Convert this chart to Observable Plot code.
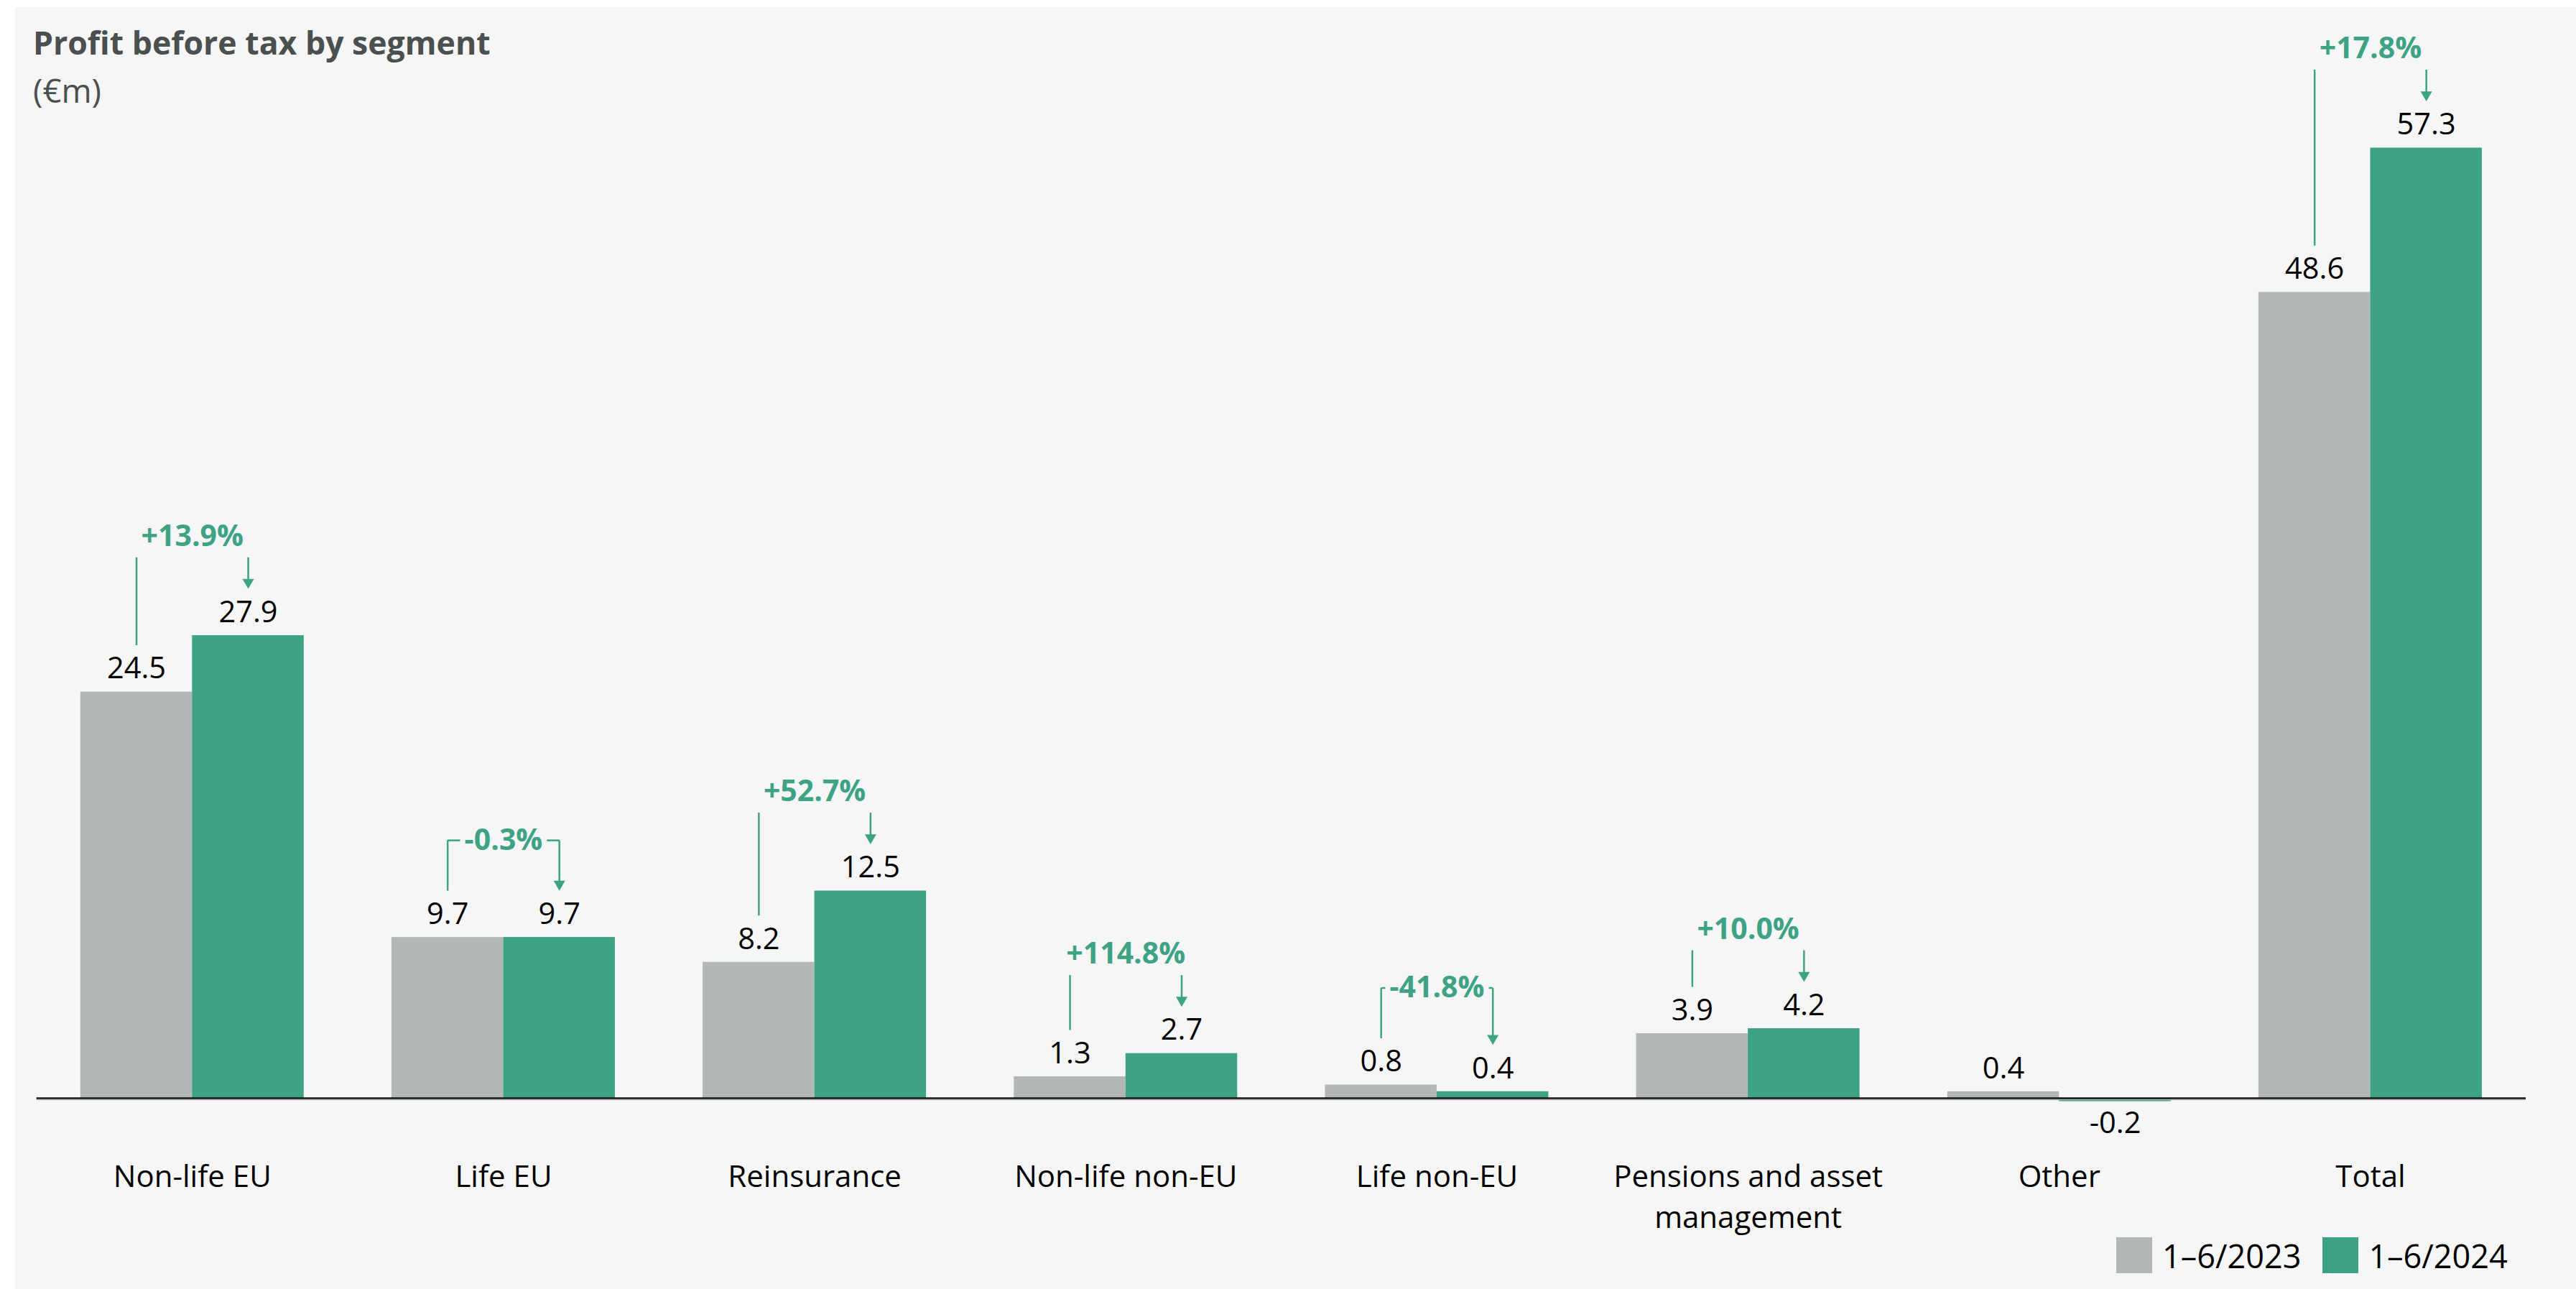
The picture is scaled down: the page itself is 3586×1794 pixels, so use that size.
<!DOCTYPE html>
<html>
<head>
<meta charset="utf-8">
<script src="https://cdn.jsdelivr.net/npm/d3@7"></script>
<script src="https://cdn.jsdelivr.net/npm/@observablehq/plot@0.6"></script>
<style>
  html, body { margin: 0; padding: 0; background: #ffffff; }
  #panel { position: absolute; left: 21px; top: 10px; width: 3565px; height: 1784px; background: #f6f6f6; font-family: "Open Sans", sans-serif; overflow: hidden; }
  #title { position: absolute; left: 25px; top: 27px; font-size: 44.6px; font-weight: 700; color: #4a4f50; line-height: 1; white-space: nowrap; }
  #subtitle { position: absolute; left: 25px; top: 93px; font-size: 45.5px; color: #4a4f50; line-height: 1; white-space: nowrap; }
  #chart { position: absolute; left: 0; top: 0; }
  #legend { position: absolute; left: 2925px; top: 1712px; display: flex; align-items: center; font-size: 45px; color: #000; line-height: 1; }
  #legend .item { display: flex; align-items: center; margin-right: 30px; }
  #legend .sw { width: 50px; height: 50px; margin-right: 14px; }
</style>
</head>
<body>
<div id="panel">
  <div id="chart"></div>
  <div id="title"></div>
  <div id="subtitle"></div>
  <div id="legend"></div>
</div>
<script>
// ---------- data ----------
const title = "Profit before tax by segment";
const subtitle = "(€m)";
const segments = ["Non-life EU", "Life EU", "Reinsurance", "Non-life non-EU", "Life non-EU", "Pensions and asset\nmanagement", "Other", "Total"];
const series = ["1–6/2023", "1–6/2024"];
const v2023 = [24.5, 9.7, 8.2, 1.3, 0.8, 3.9, 0.4, 48.6];
const v2024 = [27.9, 9.7, 12.5, 2.7, 0.4, 4.2, -0.2, 57.3];
const change = [13.9, -0.3, 52.7, 114.8, -41.8, 10.0, null, 17.8];
const colors = ["#b3b8b7", "#3da384"];

// ---------- layout ----------
const W = 3565, H = 1710;
const baselinePx = 1518;          // svg y of zero
const ky = 23.08;                 // px per €m
const yMin = -2, yMax = 62;
const marginTop = baselinePx - yMax * ky;
const marginBottom = H - (baselinePx - yMin * ky);
const marginLeft = 29.7, marginRight = 70;
const kx = (W - marginLeft - marginRight) / segments.length; // px per group
const half = 155.5 / kx;          // one bar width, in group units
const green = colors[1];
const labelSize = 41.5, pctSize = 41;

document.getElementById("title").textContent = title;
document.getElementById("subtitle").textContent = subtitle;

const bars = segments.flatMap((s, i) => [
  {i, s, series: series[0], x1: i - half, x2: i, v: v2023[i]},
  {i, s, series: series[1], x1: i, x2: i + half, v: v2024[i]}
]);

const fmtPct = c => (c > 0 ? "+" : "") + c.toFixed(1) + "%";
const ctx = document.createElement("canvas").getContext("2d");
ctx.font = `700 ${pctSize}px "Open Sans"`;

const ann = segments.map((s, i) => ({
  i, c: change[i], a: v2023[i], b: v2024[i],
  top: Math.max(v2023[i], v2024[i], 0)
})).filter(d => d.c != null);

const links = [];
const heads = [];
for (const d of ann) {
  const gx = d.i - half / 2, hx = d.i + half / 2;
  const bracket = d.c < 0;
  const level = d.top + (bracket ? 135 : 109) / ky;
  links.push({x1: gx, x2: gx, y1: d.a + 65 / ky, y2: level});
  links.push({x1: hx, x2: hx, y1: level, y2: d.b + 77 / ky});
  if (bracket) {
    const tw = ctx.measureText(fmtPct(d.c)).width;
    const stub = Math.max(3, ((hx - gx) * kx - tw) / 2 - 6) / kx;
    links.push({x1: gx, x2: gx + stub, y1: level, y2: level});
    links.push({x1: hx - stub, x2: hx, y1: level, y2: level});
  }
  heads.push({x: hx, y: d.b});
}

const chart = Plot.plot({
  width: W,
  height: H,
  marginTop, marginBottom, marginLeft, marginRight,
  style: {background: "transparent", fontFamily: "Open Sans", overflow: "visible"},
  x: {domain: [-0.5, segments.length - 0.5], axis: null},
  y: {domain: [yMin, yMax], axis: null},
  color: {domain: series, range: colors},
  marks: [
    Plot.rect(bars, {x1: "x1", x2: "x2", y1: 0, y2: "v", fill: "series"}),
    Plot.ruleY([0], {stroke: "#b8b8b8", strokeWidth: 1.5, dy: 2}),
    Plot.ruleY([0], {stroke: "#151515", strokeWidth: 2.5}),
    Plot.text(bars.filter(d => d.v >= 0), {x: d => (d.x1 + d.x2) / 2, y: "v", text: d => d.v.toFixed(1), dy: -32, lineAnchor: "middle", fontSize: labelSize, fill: "#000"}),
    Plot.text(bars.filter(d => d.v < 0), {x: d => (d.x1 + d.x2) / 2, y: "v", text: d => d.v.toFixed(1), dy: 31, lineAnchor: "middle", fontSize: labelSize, fill: "#000"}),
    Plot.link(links, {x1: "x1", x2: "x2", y1: "y1", y2: "y2", stroke: green, strokeWidth: 2.5}),
    Plot.dot(heads, {x: "x", y: "y", dy: -74.2, symbol: "triangle", rotate: 180, r: 5.95, fill: green, stroke: "none"}),
    Plot.text(ann.filter(d => d.c >= 0), {x: "i", y: "top", text: d => fmtPct(d.c), dy: -138, fill: green, fontWeight: 700, fontSize: pctSize, lineAnchor: "middle"}),
    Plot.text(ann.filter(d => d.c < 0), {x: "i", y: "top", text: d => fmtPct(d.c), dy: -135, fill: green, fontWeight: 700, fontSize: pctSize, lineAnchor: "middle"}),
    Plot.text(segments, {x: (d, i) => i, text: d => d, frameAnchor: "bottom", lineAnchor: "top", dy: 37, fontSize: 42, lineHeight: 1.36, fill: "#000"})
  ]
});
document.getElementById("chart").appendChild(chart);

// legend
const legend = document.getElementById("legend");
series.forEach((s, k) => {
  const item = document.createElement("div");
  item.className = "item";
  const sw = document.createElement("div");
  sw.className = "sw";
  sw.style.background = colors[k];
  const lab = document.createElement("span");
  lab.textContent = s;
  item.appendChild(sw);
  item.appendChild(lab);
  legend.appendChild(item);
});
</script>
</body>
</html>
